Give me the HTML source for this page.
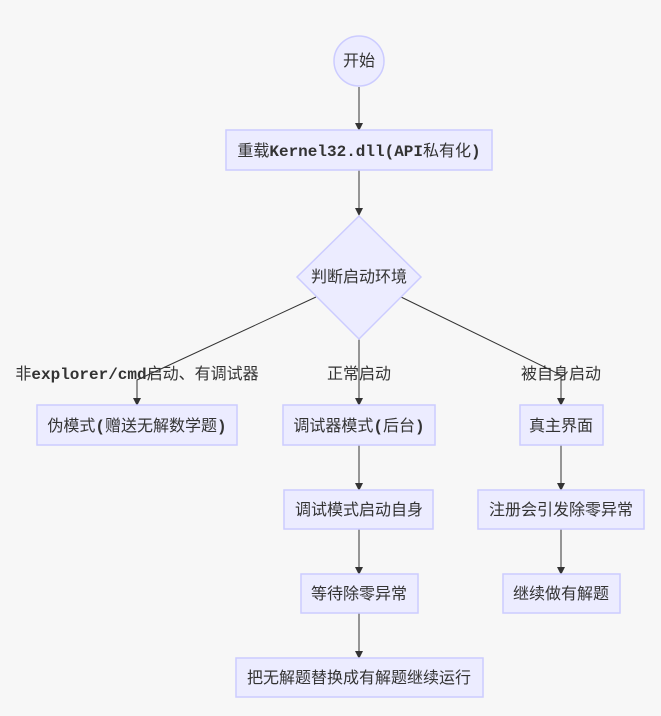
<!DOCTYPE html>
<html><head><meta charset="utf-8"><style>
html,body{margin:0;padding:0;background:#f7f7f7;}
svg{display:block}
text{font-family:"Liberation Sans","Noto Sans CJK SC",sans-serif;font-size:16px;fill:#333;}
.m{font-family:"Liberation Mono","Noto Sans CJK SC",monospace;font-weight:bold;}
.n{fill:#ececff;stroke:#ccccff;stroke-width:1.5}
.l{stroke:#333;stroke-width:1;fill:none}
</style></head><body>
<svg width="661" height="716" viewBox="0 0 661 716">
<defs><marker id="a" markerWidth="8" markerHeight="8" refX="7" refY="4" orient="auto" markerUnits="userSpaceOnUse"><path d="M0,0L8,4L0,8z" fill="#333"/></marker></defs>
<path class="l" d="M359,87V130" marker-end="url(#a)"/>
<path class="l" d="M359,170V215" marker-end="url(#a)"/>
<path class="l" d="M316,297L137,380V405" marker-end="url(#a)"/>
<path class="l" d="M359,339V405" marker-end="url(#a)"/>
<path class="l" d="M401,297L561,375V405" marker-end="url(#a)"/>
<path class="l" d="M359,445V490" marker-end="url(#a)"/>
<path class="l" d="M359,529V574" marker-end="url(#a)"/>
<path class="l" d="M359,613V658" marker-end="url(#a)"/>
<path class="l" d="M561,445V490" marker-end="url(#a)"/>
<path class="l" d="M561,529V574" marker-end="url(#a)"/>
<circle class="n" cx="359" cy="61" r="25"/>
<text x="359" y="66" text-anchor="middle">开始</text>
<rect class="n" x="226" y="130" width="266" height="40"/>
<text x="359" y="156" text-anchor="middle">重载<tspan class="m">Kernel32.dll(API</tspan>私有化<tspan class="m">)</tspan></text>
<polygon class="n" points="359,216 421,277 359,339 297,277"/>
<text x="359" y="282" text-anchor="middle">判断启动环境</text>
<text x="137" y="379" text-anchor="middle">非<tspan class="m">explorer/cmd</tspan>启动、有调试器</text>
<text x="359" y="379" text-anchor="middle">正常启动</text>
<text x="561" y="379" text-anchor="middle">被自身启动</text>
<rect class="n" x="37" y="405" width="200" height="40"/>
<text x="137" y="431" text-anchor="middle">伪模式<tspan class="m">(</tspan>赠送无解数学题<tspan class="m">)</tspan></text>
<rect class="n" x="283" y="405" width="152" height="40"/>
<text x="359" y="431" text-anchor="middle">调试器模式<tspan class="m">(</tspan>后台<tspan class="m">)</tspan></text>
<rect class="n" x="520" y="405" width="83" height="40"/>
<text x="561" y="431" text-anchor="middle">真主界面</text>
<rect class="n" x="284" y="490" width="149" height="39"/>
<text x="359" y="515" text-anchor="middle">调试模式启动自身</text>
<rect class="n" x="478" y="490" width="166" height="39"/>
<text x="561" y="515" text-anchor="middle">注册会引发除零异常</text>
<rect class="n" x="301" y="574" width="117" height="39"/>
<text x="359" y="599" text-anchor="middle">等待除零异常</text>
<rect class="n" x="503" y="574" width="117" height="39"/>
<text x="561" y="599" text-anchor="middle">继续做有解题</text>
<rect class="n" x="236" y="658" width="247" height="39"/>
<text x="359" y="683" text-anchor="middle">把无解题替换成有解题继续运行</text>
</svg>
</body></html>
